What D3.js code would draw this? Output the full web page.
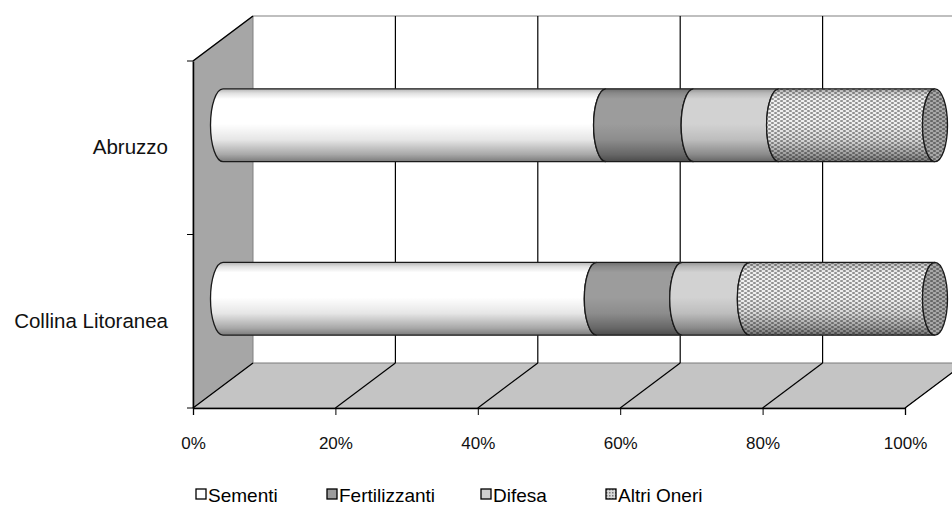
<!DOCTYPE html>
<html>
<head>
<meta charset="utf-8">
<script src="https://cdn.jsdelivr.net/npm/d3@7"></script>
<style>
  html, body { margin: 0; padding: 0; background: #fff; }
  svg { display: block; font-family: "Liberation Sans", Arial, sans-serif; }
</style>
</head>
<body>
<svg id="chart" width="952" height="506"></svg>
<script>
// Cost shares (%) per area, stacked to 100%
const categories = ["Abruzzo", "Collina Litoranea"];
const seriesNames = ["Sementi", "Fertilizzanti", "Difesa", "Altri Oneri"];
const sementi = [53.8, 52.5];
const fertilizzanti = [12.3, 12.0];
const difesa = [12.0, 9.5];
const altriOneri = [21.9, 26.0];
const xTickValues = [0, 20, 40, 60, 80, 100];

const seriesValues = [sementi, fertilizzanti, difesa, altriOneri];

const svg = d3.select("#chart");
const defs = svg.append("defs");

// front plane of the 3D box and its depth offset
const front = { left: 193, right: 905, top: 61, bottom: 408 };
const depth = { dx: 60, dy: -45 };

const x = d3.scaleLinear().domain([0, 100]).range([front.left, front.right]);
const y = d3.scaleBand().domain(categories).range([front.top, front.bottom]);

// shading across the cylinder (top to bottom)
const shade = defs.append("linearGradient")
  .attr("id", "cylShade").attr("x1", 0).attr("y1", 0).attr("x2", 0).attr("y2", 1);
[[0, 0.3], [0.06, 0.12], [0.14, 0], [0.48, 0], [0.7, 0.1], [0.9, 0.34], [1, 0.52]]
  .forEach(([o, a]) => shade.append("stop").attr("offset", o).attr("stop-color", "#000").attr("stop-opacity", a));

// fine mesh texture for "Altri Oneri"
const mesh = defs.append("pattern").attr("id", "mesh")
  .attr("patternUnits", "userSpaceOnUse").attr("width", 6).attr("height", 4);
mesh.append("rect").attr("width", 6).attr("height", 4).attr("fill", "#f0f0f0");
mesh.append("ellipse").attr("cx", 1.5).attr("cy", 1).attr("rx", 1.7).attr("ry", 0.9).attr("fill", "#8c8c8c");
mesh.append("ellipse").attr("cx", 4.5).attr("cy", 3).attr("rx", 1.7).attr("ry", 0.9).attr("fill", "#8c8c8c");

const legendMesh = defs.append("pattern").attr("id", "meshSmall")
  .attr("patternUnits", "userSpaceOnUse").attr("width", 3).attr("height", 3);
legendMesh.append("rect").attr("width", 3).attr("height", 3).attr("fill", "#d8d8d8");
legendMesh.append("rect").attr("width", 1.5).attr("height", 1.5).attr("fill", "#777");

const fills = ["#ffffff", "#9c9c9c", "#d2d2d2", "url(#mesh)"];
const legendFills = ["#ffffff", "#9c9c9c", "#cfcfcf", "url(#meshSmall)"];

// ---- back wall ----
svg.append("rect")
  .attr("x", front.left + depth.dx).attr("y", front.top + depth.dy)
  .attr("width", x(100) - x(0) + 10).attr("height", front.bottom - front.top)
  .attr("fill", "#fff");
svg.append("line")
  .attr("x1", front.left + depth.dx).attr("x2", 952)
  .attr("y1", front.top + depth.dy).attr("y2", front.top + depth.dy)
  .attr("stroke", "#808080").attr("stroke-width", 1.2);

// ---- left wall ----
svg.append("polygon")
  .attr("points", [
    [front.left, front.top], [front.left + depth.dx, front.top + depth.dy],
    [front.left + depth.dx, front.bottom + depth.dy], [front.left, front.bottom]
  ].map(p => p.join(",")).join(" "))
  .attr("fill", "#a6a6a6").attr("stroke", "#808080").attr("stroke-width", 1);

// ---- floor ----
svg.append("polygon")
  .attr("points", [
    [x(0), front.bottom], [x(0) + depth.dx, front.bottom + depth.dy],
    [x(100) + depth.dx, front.bottom + depth.dy], [x(100), front.bottom]
  ].map(p => p.join(",")).join(" "))
  .attr("fill", "#c4c4c4").attr("stroke", "#7a7a7a").attr("stroke-width", 1);

// gridlines: vertical on the back wall, diagonal across the floor
const grid = svg.append("g").attr("stroke", "#000").attr("stroke-width", 1.2);
xTickValues.filter(t => t > 0).forEach(t => {
  grid.append("line")
    .attr("x1", x(t) + depth.dx).attr("x2", x(t) + depth.dx)
    .attr("y1", front.top + depth.dy).attr("y2", front.bottom + depth.dy);
});
xTickValues.forEach(t => {
  grid.append("line")
    .attr("x1", x(t)).attr("y1", front.bottom)
    .attr("x2", x(t) + depth.dx).attr("y2", front.bottom + depth.dy);
});

// wall top edge
svg.append("line")
  .attr("x1", front.left).attr("y1", front.top)
  .attr("x2", front.left + depth.dx).attr("y2", front.top + depth.dy)
  .attr("stroke", "#000").attr("stroke-width", 1.5);

// ---- axes ----
const xAxis = d3.axisBottom(x).tickValues(xTickValues).tickSize(7).tickPadding(22)
  .tickFormat(d => d + "%");
const gx = svg.append("g").attr("transform", `translate(0,${front.bottom})`).call(xAxis);
gx.select(".domain").attr("stroke", "#000").attr("stroke-width", 1.3);
gx.selectAll(".tick line").attr("stroke", "#000");
gx.selectAll("text").attr("font-size", 17).attr("fill", "#111").attr("font-family", "Liberation Sans, Arial, sans-serif");

const yAxis = d3.axisLeft(y).tickSize(0).tickPadding(25);
const gy = svg.append("g").attr("transform", `translate(${front.left},0)`).call(yAxis);
gy.select(".domain").attr("stroke", "#000").attr("stroke-width", 1.5);
gy.selectAll("text").attr("font-size", 20.5).attr("fill", "#111").attr("font-family", "Liberation Sans, Arial, sans-serif");
// category boundary ticks
const bounds = [front.top, ...categories.slice(1).map(c => y(c)), front.bottom];
gy.selectAll(".bound").data(bounds).join("line").attr("class", "bound")
  .attr("x1", -6).attr("x2", 0).attr("y1", d => d).attr("y2", d => d)
  .attr("stroke", "#000");

// ---- cylinders ----
const rx = 12.5;
const ry = y.bandwidth() * 0.21;
const bars = svg.append("g");

categories.forEach((cat, ci) => {
  const cy = y(cat) + y.bandwidth() / 2 + depth.dy / 2;
  const yt = cy - ry, yb = cy + ry;
  let acc = 0;
  seriesValues.forEach((vals, si) => {
    const v0 = acc, v1 = acc + vals[ci];
    acc = v1;
    const x0 = x(v0) + depth.dx / 2, x1 = x(v1) + depth.dx / 2;
    const d = `M${x0},${yt} L${x1},${yt} A${rx},${ry} 0 0 0 ${x1},${yb} L${x0},${yb} A${rx},${ry} 0 0 1 ${x0},${yt} Z`;
    bars.append("path").attr("d", d).attr("fill", fills[si]);
    bars.append("path").attr("d", d).attr("fill", "url(#cylShade)")
      .attr("stroke", "#1a1a1a").attr("stroke-width", 1.3);
    if (si === seriesValues.length - 1) {
      bars.append("ellipse").attr("cx", x1).attr("cy", cy).attr("rx", rx).attr("ry", ry)
        .attr("fill", fills[si]);
      bars.append("ellipse").attr("cx", x1).attr("cy", cy).attr("rx", rx).attr("ry", ry)
        .attr("fill", "#000").attr("fill-opacity", 0.3)
        .attr("stroke", "#1a1a1a").attr("stroke-width", 1.3);
    }
  });
});

// ---- legend ----
const legendX = [196, 327, 481, 606];
const legend = svg.append("g");
seriesNames.forEach((name, i) => {
  legend.append("rect")
    .attr("x", legendX[i]).attr("y", 489).attr("width", 10).attr("height", 10)
    .attr("fill", legendFills[i]).attr("stroke", "#000").attr("stroke-width", 1.3);
  legend.append("text")
    .attr("x", legendX[i] + 12).attr("y", 501.5)
    .attr("font-size", 19).attr("fill", "#000")
    .text(name);
});
</script>
</body>
</html>
